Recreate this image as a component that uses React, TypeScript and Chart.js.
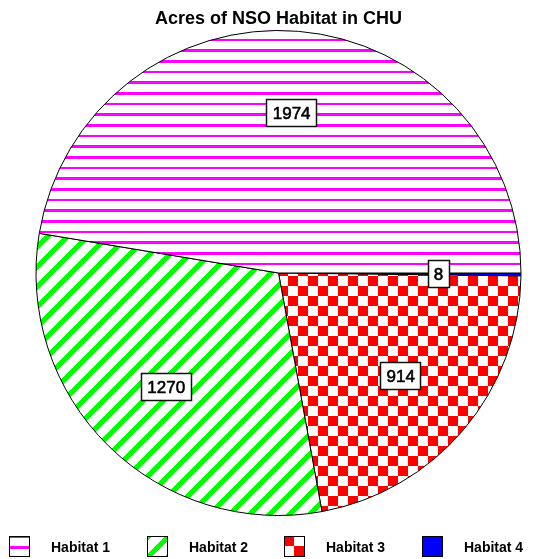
import React, { useEffect, useRef } from "react";
import { Chart, registerables } from "chart.js";

Chart.register(...registerables);

const chartTitle = "Acres of NSO Habitat in CHU";
const categories = ["Habitat 1", "Habitat 2", "Habitat 3", "Habitat 4"];
const acres = [1974, 1270, 914, 8];
const sliceColors = ["#FF00FF", "#00FF00", "#FF0000", "#0000FF"];
// slices are laid out counter-clockwise from 3 o'clock in the reference,
// Chart.js goes clockwise, so draw them in reverse order
const drawOrder = [3, 2, 1, 0];

const W = 539;
const H = 559;

function makeTile(w: number, h: number, fn: (x: number, y: number) => number[]) {
  const c = document.createElement("canvas");
  c.width = w;
  c.height = h;
  const cx = c.getContext("2d") as CanvasRenderingContext2D;
  const img = cx.createImageData(w, h);
  for (let y = 0; y < h; y++) {
    for (let x = 0; x < w; x++) {
      const [r, g, b] = fn(x, y);
      const i = (y * w + x) * 4;
      img.data[i] = r;
      img.data[i + 1] = g;
      img.data[i + 2] = b;
      img.data[i + 3] = 255;
    }
  }
  cx.putImageData(img, 0, 0);
  return c;
}

function hexToRgb(hex: string) {
  const v = parseInt(hex.slice(1), 16);
  return [(v >> 16) & 255, (v >> 8) & 255, v & 255];
}

function buildFills(ctx: CanvasRenderingContext2D) {
  const white = [255, 255, 255];
  // Habitat 1: horizontal lines
  const c1 = hexToRgb(sliceColors[0]);
  const period = 32 / 3;
  const bandLen = 8 / 3;
  const lineTile = makeTile(4, 32, (_x, y) => {
    let cov = 0;
    for (let k = -1; k < 4; k++) {
      const s = 6.667 + k * period;
      cov += Math.max(0, Math.min(y + 1, s + bandLen) - Math.max(y, s));
    }
    return cov >= 0.5 ? c1 : white;
  });
  // Habitat 2: diagonal stripes
  const c2 = hexToRgb(sliceColors[1]);
  const stripeTile = makeTile(20, 20, (x, y) => ((x + y) % 20 < 7 ? c2 : white));
  // Habitat 3: checkerboard
  const c3 = hexToRgb(sliceColors[2]);
  const checkTile = makeTile(20, 20, (x, y) =>
    (Math.floor((x + 12) / 10) + Math.floor((y + 14) / 10)) % 2 === 1 ? c3 : white
  );
  return [
    ctx.createPattern(lineTile, "repeat") as CanvasPattern,
    ctx.createPattern(stripeTile, "repeat") as CanvasPattern,
    ctx.createPattern(checkTile, "repeat") as CanvasPattern,
    sliceColors[3],
  ];
}

export default function App() {
  const ref = useRef<HTMLCanvasElement | null>(null);

  useEffect(() => {
    const canvas = ref.current;
    if (!canvas) return;
    const ctx = canvas.getContext("2d") as CanvasRenderingContext2D;
    const fills = buildFills(ctx);

    const overlay = {
      id: "overlay",
      afterDatasetsDraw(chart: any) {
        const c = chart.ctx as CanvasRenderingContext2D;
        const meta = chart.getDatasetMeta(0);
        c.save();
        c.font = "17px Arial, 'Liberation Sans', sans-serif";
        c.textAlign = "center";
        c.textBaseline = "middle";
        meta.data.forEach((arc: any, idx: number) => {
          const p = arc.getProps(["x", "y", "startAngle", "endAngle", "outerRadius"], true);
          const mid = (p.startAngle + p.endAngle) / 2;
          const r = p.outerRadius * 0.66;
          const cx = p.x + r * Math.cos(mid);
          const cy = p.y + r * Math.sin(mid);
          const txt = String(chart.data.datasets[0].data[idx]);
          const tw = c.measureText(txt).width;
          const bw = Math.round(tw + 13);
          const bh = 28;
          const bx = Math.round(cx - bw / 2);
          const by = Math.round(cy - bh / 2);
          c.fillStyle = "#fff";
          c.fillRect(bx, by, bw, bh);
          c.strokeStyle = "#111";
          c.lineWidth = 1.5;
          c.strokeRect(bx + 0.5, by + 0.5, bw - 1, bh - 1);
          c.fillStyle = "#000";
          c.strokeStyle = "#000";
          c.lineWidth = 0.6;
          c.fillText(txt, cx, by + bh / 2 + 1);
          c.strokeText(txt, cx, by + bh / 2 + 1);
        });
        c.restore();
      },
      afterDraw(chart: any) {
        const c = chart.ctx as CanvasRenderingContext2D;
        c.save();
        // title
        c.font = "bold 18px Arial, 'Liberation Sans', sans-serif";
        c.fillStyle = "#000";
        c.textAlign = "center";
        c.textBaseline = "alphabetic";
        c.fillText(chartTitle, 278.5, 24);
        // legend
        const offsets = [
          [0, 7],
          [1, 1],
          [18, 6],
          [0, 0],
        ];
        c.font = "bold 14px Arial, 'Liberation Sans', sans-serif";
        c.textAlign = "left";
        c.textBaseline = "alphabetic";
        categories.forEach((name, i) => {
          const bx = Math.round(9 + i * 137.7);
          const by = 536;
          const size = 21;
          c.save();
          const [ox, oy] = offsets[i];
          c.translate(bx - ox, by - oy);
          c.fillStyle = fills[i] as any;
          c.fillRect(ox, oy, size, size);
          c.restore();
          c.strokeStyle = "#000";
          c.lineWidth = 1;
          c.strokeRect(bx + 0.5, by + 0.5, size - 1, size - 1);
          c.fillStyle = "#000";
          c.fillText(name, bx + 42, 551.5);
        });
        c.restore();
      },
    };

    const chart = new Chart(ctx, {
      type: "pie",
      data: {
        labels: drawOrder.map((i) => categories[i]),
        datasets: [
          {
            data: drawOrder.map((i) => acres[i]),
            backgroundColor: drawOrder.map((i) => fills[i]) as any,
            borderColor: "#000",
            borderWidth: 1,
          },
        ],
      },
      options: {
        responsive: false,
        animation: false,
        events: [],
        rotation: 90,
        layout: { padding: { left: 35.5, right: 17.5, top: 30, bottom: 43 } },
        plugins: {
          legend: { display: false },
          title: { display: false },
          tooltip: { enabled: false },
        },
      } as any,
      plugins: [overlay],
    });

    return () => chart.destroy();
  }, []);

  return (
    <div style={{ position: "fixed", left: 0, top: 0, width: W, height: H, background: "#fff" }}>
      <canvas ref={ref} width={W} height={H} style={{ display: "block", width: W, height: H }} />
    </div>
  );
}
